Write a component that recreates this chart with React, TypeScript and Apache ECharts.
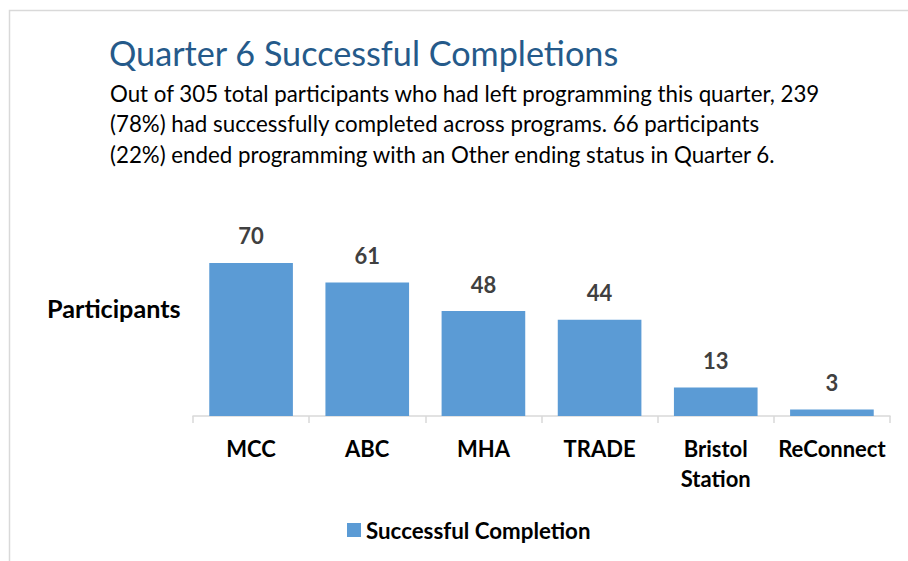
import React, { useEffect, useRef } from "react";
import * as echarts from "echarts";

const categories = ["MCC", "ABC", "MHA", "TRADE", "Bristol\nStation", "ReConnect"];
const completions = [70, 61, 48, 44, 13, 3];
const seriesName = "Successful Completion";
const titleText = "Quarter 6 Successful Completions";
const subtitleLines = [
  "Out of 305 total participants who had left programming this quarter, 239",
  "(78%) had successfully completed across programs. 66 participants",
  "(22%) ended programming with an Other ending status in Quarter 6.",
];
const yAxisTitle = "Participants";

const FONT = "Lato, 'Open Sans', sans-serif";

export default function App() {
  const ref = useRef<HTMLDivElement>(null);
  useEffect(() => {
    if (!ref.current) return;
    const chart = echarts.init(ref.current, undefined, { renderer: "svg" });
    chart.setOption({
      animation: false,
      backgroundColor: "#ffffff",
      textStyle: { fontFamily: FONT },
      title: {
        text: titleText,
        left: 104,
        top: 30,
        textStyle: { fontFamily: FONT, fontSize: 34.2, fontWeight: "normal", color: "#255a8a" },
      },
      graphic: [
        {
          type: "rect",
          shape: { x: 9.5, y: 10.5, width: 1000, height: 1000 },
          style: { fill: "none", stroke: "#d9d9d9", lineWidth: 1.5 },
          silent: true,
        },
        ...subtitleLines.map((line, i) => ({
          type: "text",
          x: 110,
          y: 93 + i * 30.7,
          style: {
            text: line,
            fontFamily: FONT,
            fontSize: 22.3,
            fill: "#000000",
            verticalAlign: "middle",
          },
        })),
        {
          type: "text",
          x: 47,
          y: 308,
          style: {
            text: yAxisTitle,
            fontFamily: FONT,
            fontSize: 25.2,
            fontWeight: "bold",
            fill: "#000000",
            verticalAlign: "middle",
          },
        },
      ],
      legend: {
        data: [seriesName],
        left: 342,
        top: 514,
        itemWidth: 14,
        itemHeight: 14,
        itemGap: 6,
        icon: "rect",
        textStyle: { fontFamily: FONT, fontSize: 22.3, fontWeight: "bold", color: "#000000" },
      },
      grid: { left: 193, right: 18, top: 241, bottom: 145, containLabel: false },
      xAxis: {
        type: "category",
        data: categories,
        axisLine: { lineStyle: { color: "#d9d9d9", width: 1.5 } },
        axisTick: { show: true, length: 7, lineStyle: { color: "#d9d9d9", width: 1.5 } },
        axisLabel: {
          interval: 0,
          margin: 17,
          fontFamily: FONT,
          fontSize: 22,
          fontWeight: "bold",
          color: "#000000",
          lineHeight: 30,
        },
      },
      yAxis: {
        type: "value",
        min: 0,
        max: 80,
        show: false,
        splitLine: { show: false },
      },
      series: [
        {
          name: seriesName,
          type: "bar",
          data: completions,
          barCategoryGap: "28%",
          itemStyle: { color: "#5b9bd5" },
          label: {
            show: true,
            position: "top",
            distance: 16,
            fontFamily: FONT,
            fontSize: 22,
            fontWeight: "bold",
            color: "#404040",
          },
        },
      ],
    });
    return () => chart.dispose();
  }, []);
  return (
    <div
      ref={ref}
      style={{ position: "absolute", left: 0, top: 0, width: 908, height: 561 }}
    />
  );
}
